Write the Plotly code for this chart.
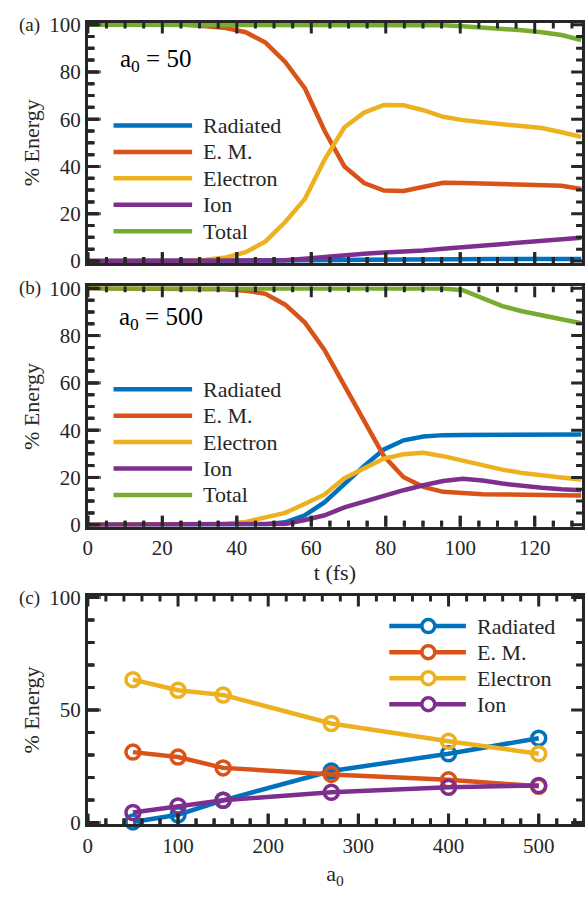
import plotly.graph_objects as go

# ---- data -------------------------------------------------------------
T_FS = [0, 5.3, 10.6, 15.9, 21.2, 26.5, 31.8, 37.1, 42.4, 47.7, 53.0, 58.3, 63.6,
        68.9, 74.2, 79.5, 84.8, 90.1, 95.4, 100.7, 106.0, 111.3, 116.6, 121.9,
        127.2, 132.5]

# a0 = 50
RAD_50 = [0, 0, 0, 0, 0, 0, 0, 0, 0, 0, 0, 0.1, 0.2, 0.4, 0.5, 0.6, 0.6, 0.7, 0.7,
          0.7, 0.8, 0.8, 0.8, 0.8, 0.9, 0.9]
EM_50 = [100, 100, 100, 100, 100, 100, 99.3, 98.6, 96.8, 92.4, 84.2, 73.0, 55.0,
         40.0, 33.0, 29.8, 29.6, 31.2, 33.1, 33.0, 32.8, 32.6, 32.4, 32.2, 31.8, 30.5]
ELE_50 = [0, 0, 0, 0, 0, 0, 0.5, 1.5, 3.7, 8.3, 16.5, 26.3, 42.9, 56.6, 62.8, 66.0,
          65.9, 63.8, 61.0, 59.6, 58.7, 58.0, 57.3, 56.3, 54.5, 52.5]
ION_50 = [0, 0, 0, 0, 0, 0, 0, 0, 0, 0, 0.3, 1.0, 1.8, 2.6, 3.1, 3.6, 3.9, 4.4, 5.2,
          5.9, 6.6, 7.2, 7.7, 8.3, 9.0, 9.8]
TOT_50 = [100, 100, 100, 100, 100, 100, 100, 100, 100, 100, 100, 100, 100, 100, 100,
          100, 100, 100, 99.7, 99.3, 98.8, 98.3, 97.6, 96.8, 95.6, 93.5]

# a0 = 500
RAD_500 = [0, 0, 0, 0, 0, 0, 0, 0, 0, 0.2, 1.0, 4.0, 9.5, 17.4, 24.9, 31.8, 35.7,
           37.3, 37.9, 38.0, 38.1, 38.1, 38.2, 38.2, 38.2, 38.2]
EM_500 = [100, 100, 100, 100, 100, 100, 99.9, 99.6, 99.0, 97.7, 93.1, 85.5, 73.8,
          58.6, 44.2, 29.0, 20.1, 16.0, 13.9, 13.2, 12.9, 12.8, 12.7, 12.6, 12.5, 12.4]
ELE_500 = [0, 0, 0, 0, 0, 0, 0.1, 0.4, 1.2, 2.9, 5.0, 8.9, 12.8, 19.7, 23.8, 28.0,
           29.8, 30.4, 29.0, 27.0, 24.9, 23.3, 21.9, 20.8, 20.0, 19.1]
ION_500 = [0, 0, 0, 0, 0, 0, 0, 0, 0, 0.1, 0.3, 2.0, 4.0, 7.3, 9.8, 12.1, 14.6, 16.7,
           18.5, 19.4, 18.7, 17.4, 16.4, 15.6, 15.0, 14.6]
TOT_500 = [100, 100, 100, 100, 100, 100, 100, 100, 100, 100, 100, 100, 100, 100, 100,
           100, 100, 100, 99.9, 99.2, 96.0, 92.5, 90.3, 88.5, 86.9, 85.2]

# final partition versus a0
A0 = [50, 100, 150, 270, 400, 500]
RAD_A0 = [0.3, 3.5, 9.9, 22.9, 30.6, 37.5]
EM_A0 = [31.3, 29.1, 24.3, 21.4, 19.0, 16.1]
ELE_A0 = [63.5, 58.8, 56.7, 44.0, 36.1, 30.6]
ION_A0 = [4.5, 7.4, 9.9, 13.5, 15.7, 16.5]

NAMES = ["Radiated", "E. M.", "Electron", "Ion", "Total"]
COLORS = ["#0072BD", "#D95319", "#EDB120", "#7E2F8E", "#77AC30"]

# tick layout (major values, minor step) per axis
T_MAJOR, T_MINOR = list(range(0, 121, 20)), 5
P_MAJOR, P_MINOR = list(range(0, 101, 20)), 5
A_MAJOR, A_MINOR = list(range(0, 501, 100)), 20
PC_MAJOR, PC_MINOR = [0, 50, 100], 10

# ---- geometry & styling -------------------------------------------------
FONT = "Liberation Serif, Times New Roman, DejaVu Serif, serif"
INK = "#262626"
W, H = 585, 900
LEFT = 84
PAD = 0.8      # % units of headroom so curves at 0 and 100 are not clipped
MAJ_LEN, MIN_LEN, TICK_W = 11, 6, 3

T_RANGE = [0, 132.7]
A_RANGE = [0, 548]
P_RANGE = [-PAD, 100 + PAD]
XDOM = [LEFT / W, 1]
PLOT_W = W - LEFT

def dom_y(top_px, bottom_px):
    # pixel rows of the 100 and 0 levels -> padded paper domain
    scale = (bottom_px - top_px) / 100.0
    return [1 - (bottom_px + PAD * scale) / H, 1 - (top_px - PAD * scale) / H]

PANEL_ROWS = {"a": (15, 257), "b": (285, 527), "c": (601.5, 832)}

def axis_style(**kw):
    base = dict(
        showline=True, linewidth=3, linecolor=INK, mirror=True, ticks="",
        showgrid=False, zeroline=False,
        tickfont=dict(family=FONT, size=21, color=INK),
    )
    base.update(kw)
    return base

def title(text, standoff):
    return dict(text=text, standoff=standoff, font=dict(family=FONT, size=22, color=INK))

def tick_values(lo, hi, step):
    vals, v = [], lo
    while v <= hi + 1e-9:
        vals.append(v)
        v += step
    return vals

def box_ticks(xa, ya, xrng, yrng, rows, xmajor, xstep, ymajor, ystep):
    """Inward ticks on all four sides of a panel, as one line trace."""
    px_x = PLOT_W / (xrng[1] - xrng[0])
    px_y = (rows[1] - rows[0]) / 100.0
    ox, oy = 2 / px_x, 2 / px_y          # overshoot beyond the frame
    xs, ys = [], []
    for v in tick_values(xrng[0], xrng[1], xstep):
        dy = (MAJ_LEN if v in xmajor else MIN_LEN) / px_y
        xs += [v, v, None, v, v, None]
        ys += [yrng[0] + dy, yrng[0] - oy, None, yrng[1] - dy, yrng[1] + oy, None]
    for v in tick_values(0, 100, ystep):
        dx = (MAJ_LEN if v in ymajor else MIN_LEN) / px_x
        xs += [xrng[0] + dx, xrng[0] - ox, None, xrng[1] - dx, xrng[1] + ox, None]
        ys += [v, v, None, v, v, None]
    return go.Scatter(x=xs, y=ys, mode="lines", xaxis=xa, yaxis=ya,
                      line=dict(color=INK, width=TICK_W), hoverinfo="skip",
                      showlegend=False)

def left_tick_markers(xa, ya, xrng, ymajor, ystep):
    """Left-edge ticks as unclipped dash markers centred half a tick inside."""
    px_x = PLOT_W / (xrng[1] - xrng[0])
    xs, ys, sizes = [], [], []
    for v in tick_values(0, 100, ystep):
        L = MAJ_LEN if v in ymajor else MIN_LEN
        xs.append(xrng[0] + (L / 2) / px_x)
        ys.append(v)
        sizes.append(L)
    return go.Scatter(x=xs, y=ys, mode="markers", xaxis=xa, yaxis=ya,
                      marker=dict(symbol="line-ew", size=sizes,
                                  line=dict(color=INK, width=TICK_W)),
                      cliponaxis=False, hoverinfo="skip", showlegend=False)

def frame_ticks(xa, ya, xrng, rows, xmajor, xstep, ymajor, ystep):
    """Left and bottom inward ticks as overlay shapes."""
    plot_h = (rows[1] - rows[0]) * (100 + 2 * PAD) / 100.0
    line = dict(color=INK, width=TICK_W)
    out = []
    for v in tick_values(xrng[0], xrng[1], xstep):
        L = MAJ_LEN if v in xmajor else MIN_LEN
        out.append(dict(type="line", layer="above", xref=xa, yref=f"{ya} domain",
                        x0=v, x1=v, y0=0, y1=L / plot_h, line=line))
    for v in tick_values(0, 100, ystep):
        L = MAJ_LEN if v in ymajor else MIN_LEN
        out.append(dict(type="line", layer="above", xref=f"{xa} domain", yref=ya,
                        x0=0, x1=L / PLOT_W, y0=v, y1=v, line=line))
    return out

fig = go.Figure()

panels = [
    ("x", "y", [RAD_50, EM_50, ELE_50, ION_50, TOT_50]),
    ("x2", "y2", [RAD_500, EM_500, ELE_500, ION_500, TOT_500]),
]
for xa, ya, series in panels:
    for name, color, vals in zip(NAMES, COLORS, series):
        fig.add_trace(go.Scatter(
            x=T_FS, y=vals, mode="lines", name=name, xaxis=xa, yaxis=ya,
            line=dict(color=color, width=4.5), showlegend=False,
        ))

for name, color, vals in zip(NAMES[:4], COLORS[:4], [RAD_A0, EM_A0, ELE_A0, ION_A0]):
    fig.add_trace(go.Scatter(
        x=A0, y=vals, mode="lines+markers", name=name, xaxis="x3", yaxis="y3",
        line=dict(color=color, width=4.5),
        marker=dict(symbol="circle-open", size=14, line=dict(color=color, width=3.5)),
        cliponaxis=False, showlegend=False,
    ))

# box tick marks
fig.add_trace(box_ticks("x", "y", T_RANGE, P_RANGE, PANEL_ROWS["a"],
                        T_MAJOR, T_MINOR, P_MAJOR, P_MINOR))
fig.add_trace(box_ticks("x2", "y2", T_RANGE, P_RANGE, PANEL_ROWS["b"],
                        T_MAJOR, T_MINOR, P_MAJOR, P_MINOR))
fig.add_trace(box_ticks("x3", "y3", A_RANGE, P_RANGE, PANEL_ROWS["c"],
                        A_MAJOR, A_MINOR, PC_MAJOR, PC_MINOR))
fig.add_trace(left_tick_markers("x", "y", T_RANGE, P_MAJOR, P_MINOR))
fig.add_trace(left_tick_markers("x2", "y2", T_RANGE, P_MAJOR, P_MINOR))
fig.add_trace(left_tick_markers("x3", "y3", A_RANGE, PC_MAJOR, PC_MINOR))

fig.update_layout(
    width=W, height=H, margin=dict(l=0, r=0, t=0, b=0),
    paper_bgcolor="white", plot_bgcolor="white",
    font=dict(family=FONT, color=INK),
    xaxis=axis_style(domain=XDOM, range=T_RANGE, anchor="y",
                     tickvals=T_MAJOR, showticklabels=False),
    yaxis=axis_style(domain=dom_y(*PANEL_ROWS["a"]), range=P_RANGE, anchor="x",
                     tickvals=P_MAJOR, title=title("% Energy", 4)),
    xaxis2=axis_style(domain=XDOM, range=T_RANGE, anchor="y2",
                      tickvals=T_MAJOR, title=title("t (fs)", 2)),
    yaxis2=axis_style(domain=dom_y(*PANEL_ROWS["b"]), range=P_RANGE, anchor="x2",
                      tickvals=P_MAJOR, title=title("% Energy", 4)),
    xaxis3=axis_style(domain=XDOM, range=A_RANGE, anchor="y3",
                      tickvals=A_MAJOR, title=title("a<sub>0</sub>", 10)),
    yaxis3=axis_style(domain=dom_y(*PANEL_ROWS["c"]), range=P_RANGE, anchor="x3",
                      tickvals=PC_MAJOR, title=title("% Energy", 4)),
)

shapes, annotations = [], []
shapes += frame_ticks("x", "y", T_RANGE, PANEL_ROWS["a"], T_MAJOR, T_MINOR, P_MAJOR, P_MINOR)
shapes += frame_ticks("x2", "y2", T_RANGE, PANEL_ROWS["b"], T_MAJOR, T_MINOR, P_MAJOR, P_MINOR)
shapes += frame_ticks("x3", "y3", A_RANGE, PANEL_ROWS["c"], A_MAJOR, A_MINOR, PC_MAJOR, PC_MINOR)

# in-axes legends for the time-history panels
for xa, ya in [("x", "y"), ("x2", "y2")]:
    for i, (name, color) in enumerate(zip(NAMES, COLORS)):
        yy = 0.572 - i * 0.110
        shapes.append(dict(type="line", xref=f"{xa} domain", yref=f"{ya} domain",
                           x0=0.052, x1=0.211, y0=yy, y1=yy,
                           line=dict(color=color, width=4.5)))
        annotations.append(dict(text=name, xref=f"{xa} domain", yref=f"{ya} domain",
                                x=0.229, y=yy, xanchor="left", yanchor="middle",
                                showarrow=False,
                                font=dict(family=FONT, size=22, color=INK)))

# legend with markers for the a0 scan
for i, (name, color) in enumerate(zip(NAMES[:4], COLORS[:4])):
    yy = 0.867 - i * 0.1139
    shapes.append(dict(type="line", xref="x3 domain", yref="y3 domain",
                       x0=0.61, x1=0.765, y0=yy, y1=yy,
                       line=dict(color=color, width=4.5)))
    shapes.append(dict(type="circle", xref="x3 domain", yref="y3 domain",
                       xsizemode="pixel", ysizemode="pixel",
                       xanchor=0.689, yanchor=yy, x0=-6.5, x1=6.5, y0=-6.5, y1=6.5,
                       fillcolor="white", line=dict(color=color, width=3.5)))
    annotations.append(dict(text=name, xref="x3 domain", yref="y3 domain",
                            x=0.783, y=yy, xanchor="left", yanchor="middle",
                            showarrow=False,
                            font=dict(family=FONT, size=22, color=INK)))

# parameter labels and panel letters
annotations += [
    dict(text="a<sub>0</sub> = 50", xref="x domain", yref="y domain", x=0.062, y=0.844,
         xanchor="left", yanchor="middle", showarrow=False,
         font=dict(family=FONT, size=25, color="black")),
    dict(text="a<sub>0</sub> = 500", xref="x2 domain", yref="y2 domain", x=0.058, y=0.868,
         xanchor="left", yanchor="middle", showarrow=False,
         font=dict(family=FONT, size=25, color="black")),
    dict(text="(a)", xref="paper", yref="paper", x=12 / W, y=1 - 15 / H,
         xanchor="left", yanchor="middle", showarrow=False,
         font=dict(family=FONT, size=19, color=INK)),
    dict(text="(b)", xref="paper", yref="paper", x=12 / W, y=1 - 285 / H,
         xanchor="left", yanchor="middle", showarrow=False,
         font=dict(family=FONT, size=19, color=INK)),
    dict(text="(c)", xref="paper", yref="paper", x=12 / W, y=1 - 602 / H,
         xanchor="left", yanchor="middle", showarrow=False,
         font=dict(family=FONT, size=19, color=INK)),
]

fig.update_layout(shapes=shapes, annotations=annotations)
fig.write_html("out.html")
